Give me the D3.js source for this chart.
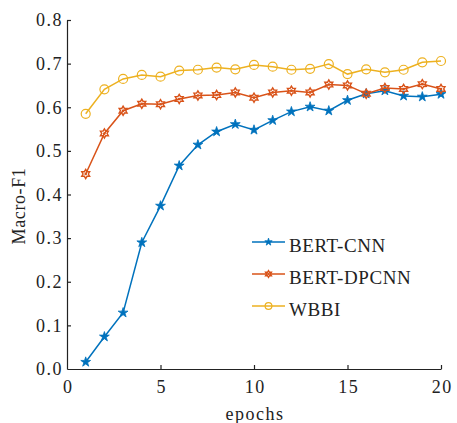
<!DOCTYPE html>
<html>
<head>
<meta charset="utf-8">
<script src="https://cdn.jsdelivr.net/npm/d3@7"></script>
<style>
body { margin: 0; background: #fff; }
text { font-family: "Liberation Serif", "Times New Roman", serif; fill: #222; }
</style>
</head>
<body>
<div class="chart"></div>
<script>
var width = 457, height = 423;
var margin = {left: 67, right: 16, top: 20, bottom: 54};

var epochs = d3.range(1, 21);
var bertCnn = [0.016, 0.074, 0.129, 0.290, 0.374, 0.466, 0.514, 0.544, 0.561, 0.548,
               0.570, 0.590, 0.601, 0.592, 0.616, 0.631, 0.638, 0.626, 0.624, 0.630];
var bertDpcnn = [0.447, 0.540, 0.592, 0.608, 0.607, 0.619, 0.627, 0.628, 0.634, 0.622,
                 0.634, 0.638, 0.634, 0.652, 0.650, 0.631, 0.644, 0.642, 0.653, 0.642];
var wbbi = [0.585, 0.641, 0.665, 0.674, 0.670, 0.684, 0.686, 0.691, 0.687, 0.697,
            0.693, 0.686, 0.688, 0.699, 0.676, 0.687, 0.680, 0.686, 0.703, 0.706];
var seriesNames = ["BERT-CNN", "BERT-DPCNN", "WBBI"];
var seriesColors = ["#0072BD", "#D95319", "#EDB120"];
var xTicks = [0, 5, 10, 15, 20];
var yTicks = [0, 0.1, 0.2, 0.3, 0.4, 0.5, 0.6, 0.7, 0.8];

var svg = d3.select(".chart").append("svg").attr("width", width).attr("height", height);

var x = d3.scaleLinear().domain([0, 20]).range([margin.left, width - margin.right]);
var y = d3.scaleLinear().domain([0, 0.8]).range([height - margin.bottom, margin.top]);

// axes, ticks pointing inward
var xAxis = svg.append("g").attr("transform", "translate(0," + y(0) + ")")
    .call(d3.axisBottom(x).tickValues(xTicks).tickSizeInner(-4).tickSizeOuter(0).tickPadding(11));
var yAxis = svg.append("g").attr("transform", "translate(" + x(0) + ",0)")
    .call(d3.axisLeft(y).tickValues(yTicks).tickFormat(d3.format(".1f")).tickSizeInner(-4).tickSizeOuter(0).tickPadding(4));

[xAxis, yAxis].forEach(function(a) {
    a.select(".domain").attr("stroke", "#222").attr("stroke-width", 1.2);
    a.selectAll(".tick line").attr("stroke", "#222").attr("stroke-width", 1.2);
    a.selectAll(".tick text")
        .style("font-size", "18px")
        .style("font-family", "Liberation Serif")
        .style("letter-spacing", "1.5px")
        .attr("fill", "#222");
});
xAxis.selectAll(".tick text").attr("dx", "0.75px");
xAxis.selectAll(".tick").filter(function(d) { return d === 0; }).select("line").remove();
yAxis.selectAll(".tick").filter(function(d) { return d === 0; }).select("line").remove();

svg.append("text")
    .attr("x", x(10) + 1).attr("y", 420)
    .attr("text-anchor", "middle")
    .style("font-size", "18px")
    .style("letter-spacing", "1.5px")
    .text("epochs");

svg.append("text")
    .attr("transform", "translate(25,206) rotate(-90)")
    .attr("text-anchor", "middle")
    .style("font-size", "18px")
    .style("letter-spacing", "0.6px")
    .text("Macro-F1");

var allSeries = [bertCnn, bertDpcnn, wbbi];
var line = d3.line().x(function(d, i) { return x(epochs[i]); }).y(function(d) { return y(d); });

function hexagram(r) {
    var pts = [];
    for (var k = 0; k < 12; k++) {
        var a = Math.PI / 6 * k - Math.PI / 2;
        var rr = k % 2 === 0 ? r : r * 0.58;
        pts.push([rr * Math.cos(a), rr * Math.sin(a)]);
    }
    return "M" + pts.join("L") + "Z";
}

function drawMarker(g, idx, color, small) {
    var k = small ? 0.75 : 1;
    if (idx === 0) {
        g.append("path").attr("d", d3.symbol().type(d3.symbolStar).size(30 * k * k))
            .attr("fill", color).attr("stroke", color).attr("stroke-width", 0.8);
    } else if (idx === 1) {
        g.append("path").attr("d", hexagram(4.6 * k)).attr("fill", "none").attr("stroke", color).attr("stroke-width", 1.4);
        g.append("circle").attr("r", 1.3 * k).attr("fill", color);
    } else {
        g.append("circle").attr("r", 4.5 * k).attr("fill", "none").attr("stroke", color).attr("stroke-width", 1.2);
    }
}

allSeries.forEach(function(vals, idx) {
    var color = seriesColors[idx];
    svg.append("path").datum(vals)
        .attr("d", line)
        .attr("fill", "none")
        .attr("stroke", color)
        .attr("stroke-width", 1.5);
    svg.append("g").selectAll("g")
        .data(vals).enter().append("g")
        .attr("transform", function(d, i) { return "translate(" + x(epochs[i]) + "," + y(d) + ")"; })
        .each(function() { drawMarker(d3.select(this), idx, color, false); });
});

// legend
var legend = svg.append("g").attr("transform", "translate(252,242)");
seriesNames.forEach(function(name, i) {
    var row = legend.append("g").attr("transform", "translate(0," + (i * 32) + ")");
    row.append("line").attr("x1", 0).attr("x2", 33).attr("y1", 0).attr("y2", 0)
        .attr("stroke", seriesColors[i]).attr("stroke-width", 1.5);
    var m = row.append("g").attr("transform", "translate(16.5,0)");
    drawMarker(m, i, seriesColors[i], true);
    row.append("text").attr("x", 37).attr("y", 10)
        .style("font-size", "19px")
        .style("letter-spacing", "0.6px")
        .text(name);
});
</script>
</body>
</html>
